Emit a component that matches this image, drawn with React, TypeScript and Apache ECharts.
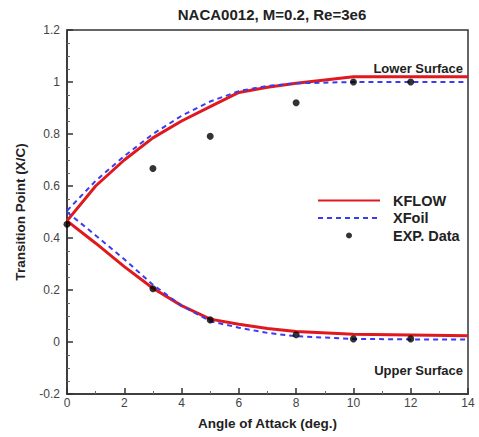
import React, { useEffect, useRef } from "react";
import * as echarts from "echarts";

const titleText = "NACA0012, M=0.2, Re=3e6";
const xAxisName = "Angle of Attack (deg.)";
const yAxisName = "Transition Point (X/C)";

const aoa = [0, 1, 2, 3, 4, 5, 6, 7, 8, 10, 12, 14];
const kflowLowerSurface = [0.466, 0.6, 0.7, 0.785, 0.85, 0.905, 0.96, 0.98, 0.995, 1.02, 1.02, 1.02];
const kflowUpperSurface = [0.466, 0.38, 0.29, 0.207, 0.14, 0.088, 0.068, 0.052, 0.04, 0.03, 0.027, 0.024];
const xfoilLowerSurface = [0.505, 0.62, 0.715, 0.8, 0.87, 0.925, 0.965, 0.985, 0.995, 1.0, 1.0, 1.0];
const xfoilUpperSurface = [0.5, 0.41, 0.318, 0.22, 0.14, 0.08, 0.055, 0.035, 0.022, 0.012, 0.01, 0.01];

const expAoa = [0, 3, 5, 8, 10, 12, 3, 5, 8, 10, 12];
const expTransition = [0.453, 0.667, 0.791, 0.92, 1.0, 1.0, 0.205, 0.085, 0.028, 0.012, 0.012];

const lowerLabel = "Lower Surface";
const upperLabel = "Upper Surface";

const RED = "#e0191f";
const BLUE = "#3b3bef";

function pairs(xs: number[], ys: number[]) {
  return xs.map((x, i) => [x, ys[i]]);
}

export default function App() {
  const ref = useRef<HTMLDivElement>(null);
  useEffect(() => {
    if (!ref.current) return;
    const chart = echarts.init(ref.current, undefined, { renderer: "svg" });
    const font = "Liberation Sans, Arial, sans-serif";
    const hidden = { opacity: 0, color: "transparent", borderColor: "transparent", borderWidth: 0 };
    chart.setOption({
      animation: false,
      backgroundColor: "#fff",
      textStyle: { fontFamily: font },
      title: {
        text: titleText,
        left: 267,
        textAlign: "center",
        top: 2,
        textStyle: { fontSize: 15, fontWeight: "bold", color: "#222", fontFamily: font },
      },
      grid: {
        left: 67,
        right: 11,
        top: 30,
        bottom: 43,
        show: true,
        borderColor: "#333",
        borderWidth: 1.5,
        backgroundColor: "transparent",
      },
      legend: {
        orient: "vertical",
        left: 317,
        top: 193,
        padding: 0,
        itemWidth: 62,
        itemHeight: 6,
        itemGap: 2.5,
        data: [
          { name: "KFLOW", itemStyle: hidden },
          { name: "XFoil", itemStyle: hidden },
          { name: "EXP. Data", icon: "circle" },
        ],
        textStyle: { fontSize: 14.5, fontWeight: "bold", color: "#222", fontFamily: font, padding: [0, 0, 0, 8] },
        selectedMode: false,
      },
      xAxis: {
        type: "value",
        min: 0,
        max: 14,
        interval: 2,
        name: xAxisName,
        nameLocation: "middle",
        nameGap: 22,
        nameTextStyle: { fontSize: 13.5, fontWeight: "bold", color: "#222" },
        axisLine: { onZero: false, lineStyle: { color: "#333", width: 1.5 } },
        axisTick: { inside: true, length: 6, lineStyle: { color: "#333", width: 1.5 } },
        minorTick: { show: true, splitNumber: 2, length: 3, lineStyle: { color: "#666" } },
        axisLabel: { fontSize: 12, color: "#444", margin: 3 },
        splitLine: { show: false },
      },
      yAxis: {
        type: "value",
        min: -0.2,
        max: 1.2,
        interval: 0.2,
        name: yAxisName,
        nameLocation: "middle",
        nameGap: 40,
        nameTextStyle: { fontSize: 13.5, fontWeight: "bold", color: "#222" },
        axisLine: { onZero: false, lineStyle: { color: "#333", width: 1.5 } },
        axisTick: { inside: true, length: 6, lineStyle: { color: "#333", width: 1.5 } },
        minorTick: { show: true, splitNumber: 4, length: 3, lineStyle: { color: "#666" } },
        axisLabel: {
          fontSize: 12,
          color: "#444",
          margin: 7,
          formatter: (v: number) => String(Math.round(v * 10) / 10),
        },
        splitLine: { show: false },
      },
      series: [
        {
          name: "KFLOW",
          type: "line",
          data: pairs(aoa, kflowLowerSurface),
          symbol: "none",
          lineStyle: { color: RED, width: 3 },
          itemStyle: { color: RED },
          z: 3,
        },
        {
          name: "KFLOW",
          type: "line",
          data: pairs(aoa, kflowUpperSurface),
          symbol: "none",
          lineStyle: { color: RED, width: 3 },
          itemStyle: { color: RED },
          z: 3,
        },
        {
          name: "XFoil",
          type: "line",
          data: pairs(aoa, xfoilLowerSurface),
          symbol: "none",
          lineStyle: { color: BLUE, width: 2, type: [5, 4] },
          itemStyle: { color: BLUE },
          z: 4,
        },
        {
          name: "XFoil",
          type: "line",
          data: pairs(aoa, xfoilUpperSurface),
          symbol: "none",
          lineStyle: { color: BLUE, width: 2, type: [5, 4] },
          itemStyle: { color: BLUE },
          z: 4,
        },
        {
          name: "EXP. Data",
          type: "scatter",
          data: pairs(expAoa, expTransition),
          symbol: "circle",
          symbolSize: 7,
          itemStyle: { color: "#000" },
          z: 5,
        },
      ],
      graphic: [
        {
          type: "text",
          right: 16,
          top: 62,
          style: { text: lowerLabel, fontSize: 13, fontWeight: "bold", fill: "#222", fontFamily: font },
        },
        {
          type: "text",
          right: 16,
          top: 364,
          style: { text: upperLabel, fontSize: 13, fontWeight: "bold", fill: "#222", fontFamily: font },
        },
      ],
    });
    return () => chart.dispose();
  }, []);
  return (
    <div
      ref={ref}
      style={{ position: "absolute", left: 0, top: 0, width: 479, height: 437 }}
    />
  );
}
